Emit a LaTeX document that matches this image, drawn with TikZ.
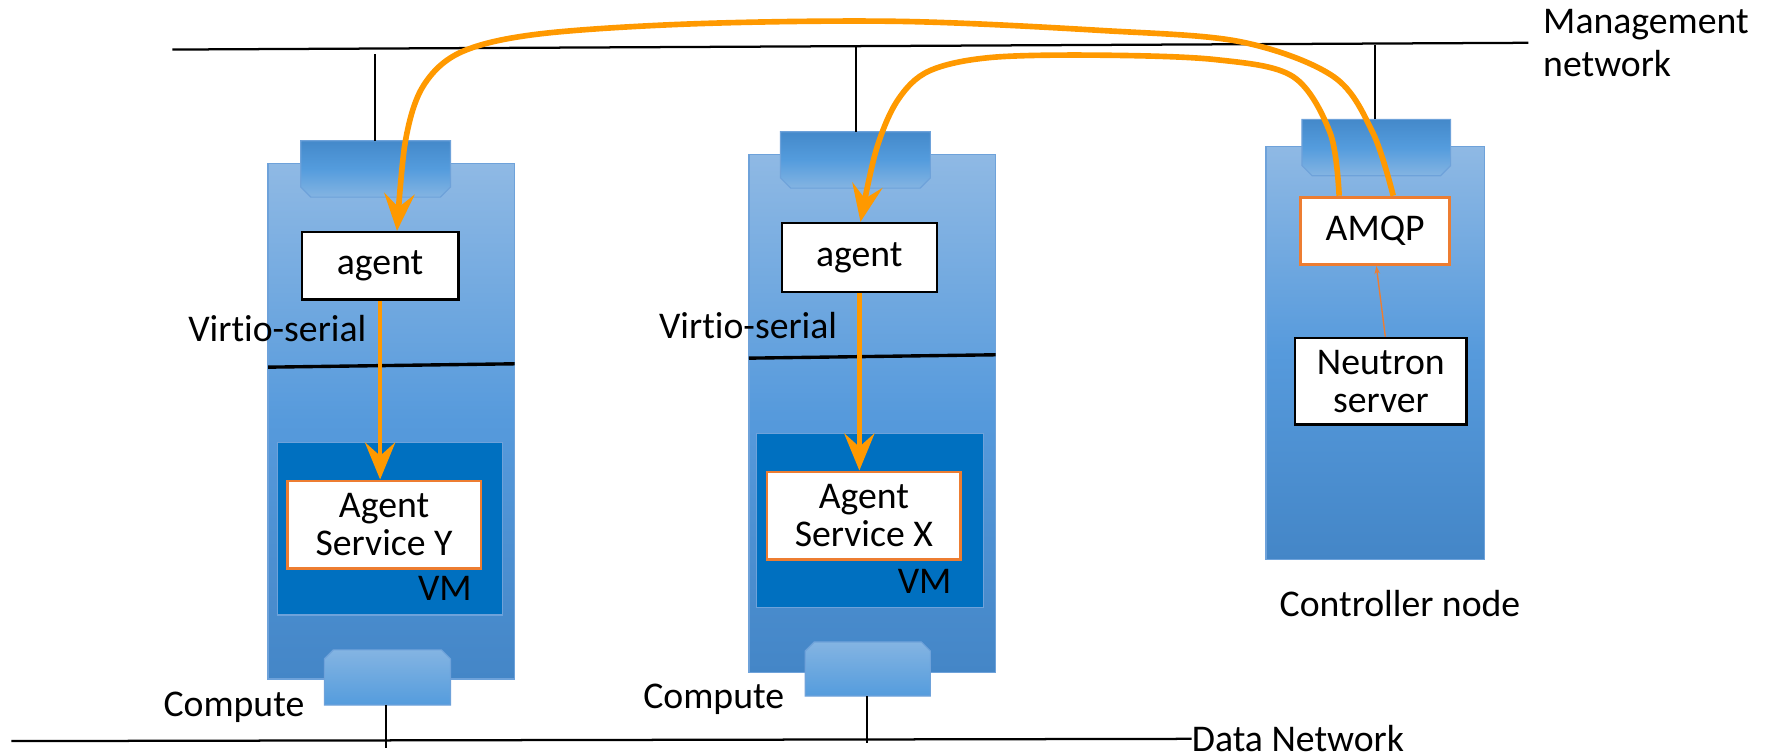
\documentclass[tikz,border=0pt]{standalone}
\usepackage{fontspec}
\setmainfont{Carlito}[Ligatures=NoCommon]
\usetikzlibrary{arrows.meta}
\definecolor{orangeA}{RGB}{255,153,0}
\definecolor{orangeB}{RGB}{237,125,49}
\definecolor{vmblue}{RGB}{0,112,192}
\definecolor{edgeblue}{RGB}{110,162,218}
\definecolor{boxtop}{RGB}{143,185,228}
\definecolor{boxmid}{RGB}{86,154,220}
\definecolor{boxbot}{RGB}{68,134,199}
\definecolor{tabdark}{RGB}{68,137,202}
\definecolor{tabmid}{RGB}{84,156,221}
\definecolor{tablight}{RGB}{132,180,226}
\tikzset{
  txt/.style={font=\fontsize{33.5}{38}\selectfont, inner sep=0pt},
  hostbox/.style={draw=edgeblue, line width=1.2pt, top color=boxtop, bottom color=boxbot, middle color=boxmid},
  tabshape/.style={draw=edgeblue, line width=1pt, top color=tabdark, bottom color=tablight, middle color=tabmid},
  portshape/.style={draw=edgeblue, line width=1pt, top color=tablight, bottom color=tabmid},
  vmbox/.style={draw=edgeblue, line width=1pt, fill=vmblue},
  whitebox/.style={draw=black, line width=2pt, fill=white, font=\fontsize{33.5}{38}\selectfont, align=center, inner sep=0pt},
  svcbox/.style={whitebox, draw=orangeB, line width=2.5pt},
  netline/.style={draw=black, line width=2pt},
  flow/.style={draw=orangeA, line width=5pt, -{Stealth[length=33pt,width=27pt,inset=12pt]}},
  thinflow/.style={draw=orangeB, line width=1.2pt, -{Stealth[length=7pt,width=5pt]}},
}
\begin{document}
\begin{tikzpicture}[x=1pt,y=-1pt]
\useasboundingbox (0,0) rectangle (1568,669);

% ---------- hosts ----------
\node[hostbox, minimum width=219pt, minimum height=458pt, inner sep=0pt] (hostL) at (347.5,374) {};
\node[hostbox, minimum width=219pt, minimum height=460pt, inner sep=0pt] (hostM) at (774.5,367) {};
\node[hostbox, minimum width=194pt, minimum height=367pt, inner sep=0pt] (hostC) at (1221,313.5) {};

% top tabs
\shade[tabshape] (267,125) -- (400,125) -- (400,166) -- (391,175) -- (276,175) -- (267,166) -- cycle;
\shade[tabshape] (693,117) -- (826,117) -- (826,158) -- (817,167) -- (702,167) -- (693,158) -- cycle;
\shade[tabshape] (1156,106) -- (1288,106) -- (1288,147) -- (1279,156) -- (1165,156) -- (1156,147) -- cycle;
\coordinate (tabL) at (333,125);
\coordinate (tabM) at (760,117);
\coordinate (tabC) at (1221,106);

% bottom ports
\shade[portshape] (288,626) -- (288,585) -- (296,577) -- (392,577) -- (400,585) -- (400,626) -- cycle;
\shade[portshape] (715,618) -- (715,578) -- (723,570) -- (818,570) -- (826,578) -- (826,618) -- cycle;
\coordinate (portL) at (343,626);
\coordinate (portM) at (770,618);

% VM boxes
\node[vmbox, minimum width=200pt, minimum height=153pt, inner sep=0pt] (vmL) at (346,469.5) {};
\node[vmbox, minimum width=201pt, minimum height=154pt, inner sep=0pt] (vmM) at (772.5,462) {};
\node[txt, anchor=east] (vmLlab) at (419,522) {VM};
\node[txt, anchor=east] (vmMlab) at (845,516) {VM};

% virtio-serial lines
\coordinate (vsL1) at (238,326); \coordinate (vsL2) at (457,323);
\coordinate (vsM1) at (665,318); \coordinate (vsM2) at (884,315);
\draw[line width=3pt] (vsL1) -- (vsL2);
\draw[line width=3pt] (vsM1) -- (vsM2);
\node[txt, anchor=west] (virL) at (167,292) {Virtio-serial};
\node[txt, anchor=west] (virM) at (585,289) {Virtio-serial};

% inner boxes
\node[whitebox, minimum width=139pt, minimum height=60pt] (agentL) at (337.5,236) {agent};
\node[whitebox, minimum width=138pt, minimum height=61pt] (agentM) at (763,228.5) {agent};
\node[svcbox, minimum width=172pt, minimum height=78pt] (svcL) at (341,466) {Agent\\[-4pt]Service Y};
\node[svcbox, minimum width=172pt, minimum height=78pt] (svcM) at (767,458) {Agent\\[-4pt]Service X};
\node[svcbox, minimum width=132pt, minimum height=60pt] (amqp) at (1221,205) {AMQP};
\node[whitebox, minimum width=152pt, minimum height=77pt] (neutron) at (1226,338.5) {Neutron\\[-4pt]server};

% arrows inside hosts
\draw[flow, line width=4pt] (agentL.south) -- (svcL.north -| agentL.south);
\draw[flow, line width=4pt] (agentM.south) -- (svcM.north -| agentM.south);
\draw[thinflow] ([xshift=4pt]neutron.north) -- ([xshift=1pt]amqp.south);

% ---------- networks ----------
\coordinate (mgA) at (153,44);
\coordinate (mgB) at (1357,38);
\draw[netline] (mgA) -- (mgB);
\node[txt, anchor=north west, align=left] (mgmt) at (1370,8) {Management\\network};
\draw[netline] (tabL) -- (333,48);
\draw[netline] (tabM) -- (760,42);
\draw[netline] (tabC) -- (1221,40);

\coordinate (dnA) at (10,658);
\node[txt, anchor=west] (dnet) at (1058,656) {Data Network};
\draw[netline] (dnA) -- (dnet.west);
\draw[netline] (portL) -- (343,664);
\draw[netline] (portM) -- (770,660);

\node[txt, anchor=west] (compL) at (145,628) {Compute};
\node[txt, anchor=west] (compM) at (571,621) {Compute};
\node[txt, anchor=west] (ctrl) at (1136,536) {Controller node};

% ---------- AMQP flows ----------
\draw[flow] plot[smooth, tension=0.55] coordinates {([xshift=16pt]amqp.north) (1219,118) (1184,68) (1101,37) (977,27) (800,19) (620,21) (480,30) (410,46) (376,76) (360,125) ([xshift=15pt]agentL.north)};
\draw[flow] plot[smooth, tension=0.55] coordinates {([xshift=-32pt]amqp.north) (1181,118) (1148,68) (1080,53) (977,49) (880,51) (825,63) (797,89) (778,133) ([xshift=1pt]agentM.north)};
\end{tikzpicture}
\end{document}
